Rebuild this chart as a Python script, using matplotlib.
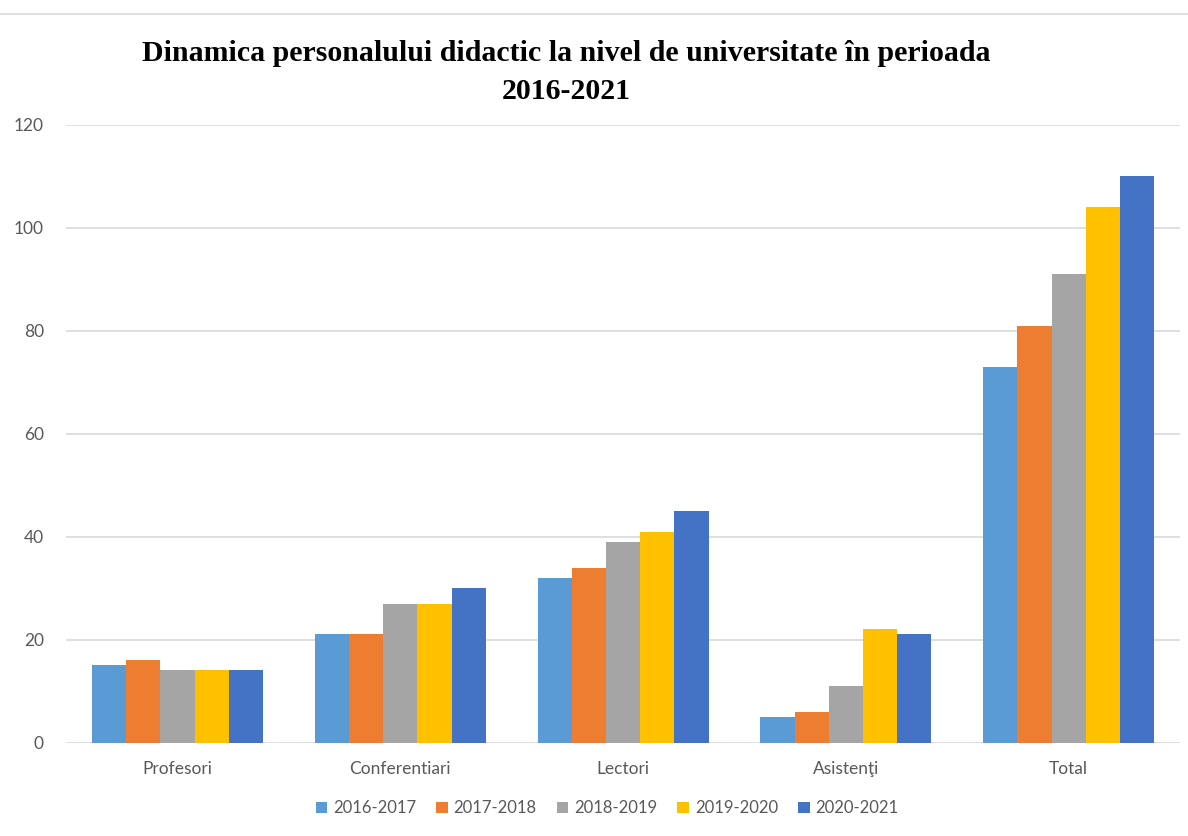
import matplotlib
matplotlib.use("Agg")
import matplotlib.pyplot as plt
from matplotlib.lines import Line2D
import numpy as np

categories = ["Profesori", "Conferentiari", "Lectori", "Asistenţi", "Total"]
years = ["2016-2017", "2017-2018", "2018-2019", "2019-2020", "2020-2021"]
v_2016 = [15, 21, 32, 5, 73]
v_2017 = [16, 21, 34, 6, 81]
v_2018 = [14, 27, 39, 11, 91]
v_2019 = [14, 27, 41, 22, 104]
v_2020 = [14, 30, 45, 21, 110]
series = [v_2016, v_2017, v_2018, v_2019, v_2020]
colors = ["#5B9BD5", "#ED7D31", "#A5A5A5", "#FFC000", "#4472C4"]

plt.rcParams["font.family"] = ["Lato", "DejaVu Sans"]

fig = plt.figure(figsize=(11.88, 8.36), dpi=100)
ax = fig.add_axes([0.0556, 0.1118, 0.9377, 0.7387])

x = np.arange(len(categories))
bw = 0.1535
for j, (vals, col) in enumerate(zip(series, colors)):
    ax.bar(x + (j - 2) * bw, vals, width=bw, color=col, label=years[j], zorder=3)

ax.set_xlim(-0.5, len(categories) - 0.5)
ax.set_ylim(0, 120)
ax.set_yticks(range(0, 121, 20))
ax.set_xticks(x)
ax.set_xticklabels(categories)
ax.grid(True, axis="y", color="#D9D9D9", linewidth=1.2, zorder=0)
for s in ax.spines.values():
    s.set_visible(False)
ax.tick_params(length=0, colors="#595959", labelsize=12.5)
ax.tick_params(axis="x", pad=13)
ax.tick_params(axis="y", pad=16)

fig.text(0.477, 0.913, "Dinamica personalului didactic la nivel de universitate în perioada\n2016-2021",
         ha="center", va="center", fontsize=21.5, fontweight="bold",
         family=["Liberation Serif", "DejaVu Serif"], linespacing=1.5)

fig.add_artist(Line2D([0, 1], [0.983, 0.983], color="#D9D9D9", linewidth=1.2))

ax.legend(loc="center", bbox_to_anchor=(0.511, 0.033), bbox_transform=fig.transFigure,
          ncol=5, frameon=False, fontsize=12, handlelength=0.7, handleheight=0.7,
          handletextpad=0.35, columnspacing=1.2, labelcolor="#595959")

fig.savefig("out.png", dpi=100)
plt.close(fig)
